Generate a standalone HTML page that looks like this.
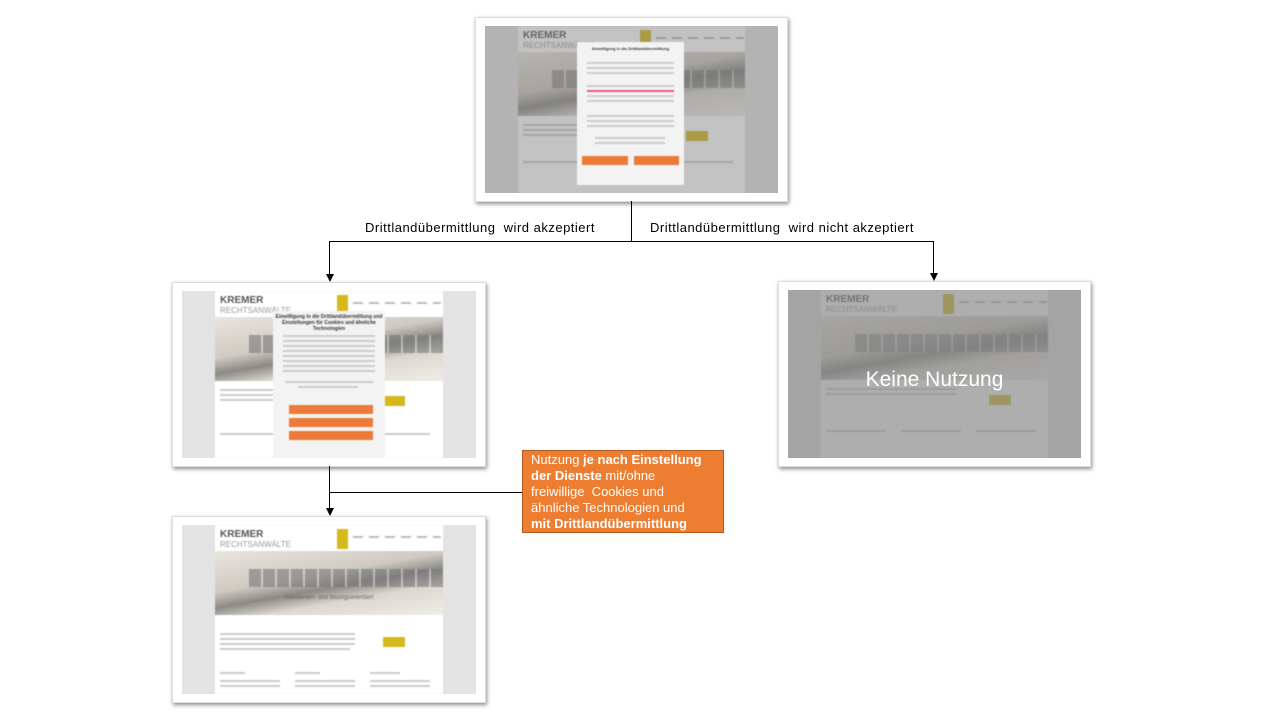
<!DOCTYPE html>
<html><head><meta charset="utf-8"><style>
body{margin:0;width:1280px;height:720px;background:#fff;position:relative;overflow:hidden;font-family:"Liberation Sans",sans-serif}
.shot{position:absolute;background:#fff;box-shadow:1px 2px 4px rgba(0,0,0,.45);border:1px solid #ddd}
.site{position:absolute;left:9px;top:8px;right:9px;bottom:8px;background:#e3e3e3;overflow:hidden}
.page{position:absolute;left:33px;right:33px;top:0;bottom:0;background:#fff;filter:blur(.5px)}
.logo{position:absolute;left:5px;top:5px;font-size:10px;font-weight:bold;color:#555;line-height:10px}
.logo span{display:block;font-weight:normal;font-size:8px;color:#999}
.nav{position:absolute;left:122px;top:4px;width:11px;height:20px;background:#d4b81c}
.navt{position:absolute;left:138px;top:11px;width:88px;height:2px;background:repeating-linear-gradient(90deg,#bbb 0 10px,transparent 10px 16px)}
.hero{position:absolute;left:0;right:0;top:26px;height:64px;background:linear-gradient(170deg,#e9e5de 0%,#cfcac2 40%,#8c8a86 55%,#dcd8d0 70%,#f0ede8 100%)}
.hero:after{content:"";position:absolute;left:15%;right:0;top:18px;height:18px;background:repeating-linear-gradient(90deg,#777 0 12px,#ccc 12px 14px);opacity:.6}
.txt{position:absolute;height:2px;background:#ccc}
.btn{position:absolute;left:168px;top:105px;width:22px;height:10px;background:#d4b81c}
.dim{position:absolute;inset:0;background:rgba(120,120,120,.45)}
.modal{position:absolute;background:#f3f3f3;filter:blur(.4px);text-align:center;color:#333}
.ob{position:absolute;background:#ec7a38;height:9px}
.lbl{position:absolute;font-size:13px;letter-spacing:.5px;color:#000;white-space:nowrap}
.ln{position:absolute;background:#000}
.arr{position:absolute;width:0;height:0;border-left:4px solid transparent;border-right:4px solid transparent;border-top:8px solid #000}
</style></head><body>

<div class="shot" style="left:475px;top:17px;width:311px;height:183px">
 <div class="site"><div class="page">
  <div class="logo">KREMER<span>RECHTSANWÄLTE</span></div><div class="nav"></div><div class="navt"></div>
  <div class="hero"></div>
  <div class="txt" style="left:5px;top:98px;width:130px"></div><div class="txt" style="left:5px;top:103px;width:130px"></div><div class="txt" style="left:5px;top:108px;width:120px"></div>
  <div class="btn"></div>
  <div class="txt" style="left:5px;top:135px;width:60px"></div><div class="txt" style="left:80px;top:135px;width:60px"></div><div class="txt" style="left:155px;top:135px;width:60px"></div>
 </div><div class="dim"></div>
 <div class="modal" style="left:92px;top:16px;width:107px;height:143px;font-size:4px;line-height:5px">
  <div style="font-weight:bold;margin:4px 0 5px">Einwilligung in die Drittlandübermittlung</div>
  <div class="txt" style="left:10px;top:20px;width:87px"></div><div class="txt" style="left:10px;top:25px;width:87px"></div><div class="txt" style="left:10px;top:30px;width:87px"></div>
  <div class="txt" style="left:10px;top:43px;width:87px"></div><div class="txt" style="left:10px;top:48px;width:87px;background:#e58"></div><div class="txt" style="left:10px;top:53px;width:87px"></div><div class="txt" style="left:10px;top:58px;width:87px"></div>
  <div class="txt" style="left:10px;top:73px;width:87px"></div><div class="txt" style="left:10px;top:78px;width:87px"></div><div class="txt" style="left:10px;top:83px;width:87px"></div>
  <div class="txt" style="left:18px;top:95px;width:70px"></div><div class="txt" style="left:18px;top:100px;width:70px"></div>
  <div class="ob" style="left:5px;top:114px;width:46px"></div><div class="ob" style="left:57px;top:114px;width:45px"></div>
 </div></div>
</div>

<div class="shot" style="left:172px;top:282px;width:312px;height:183px">
 <div class="site"><div class="page">
  <div class="logo">KREMER<span>RECHTSANWÄLTE</span></div><div class="nav"></div><div class="navt"></div>
  <div class="hero"></div>
  <div class="txt" style="left:5px;top:98px;width:130px"></div><div class="txt" style="left:5px;top:103px;width:130px"></div><div class="txt" style="left:5px;top:108px;width:120px"></div>
  <div class="btn"></div>
  <div class="txt" style="left:5px;top:142px;width:60px"></div><div class="txt" style="left:155px;top:142px;width:60px"></div>
 </div>
 <div class="modal" style="left:91px;top:20px;width:112px;height:148px;font-size:5px;line-height:6px">
  <div style="font-weight:bold;margin-top:3px">Einwilligung in die Drittlandübermittlung und Einstellungen für Cookies und ähnliche Technologien</div>
  <div class="txt" style="left:10px;top:24px;width:92px"></div><div class="txt" style="left:10px;top:29px;width:92px"></div><div class="txt" style="left:10px;top:34px;width:92px"></div><div class="txt" style="left:10px;top:39px;width:92px"></div><div class="txt" style="left:10px;top:44px;width:92px"></div><div class="txt" style="left:10px;top:49px;width:92px"></div><div class="txt" style="left:10px;top:54px;width:92px"></div><div class="txt" style="left:10px;top:59px;width:92px"></div>
  <div class="txt" style="left:12px;top:70px;width:88px"></div><div class="txt" style="left:25px;top:75px;width:60px"></div>
  <div class="ob" style="left:16px;top:94px;width:84px"></div><div class="ob" style="left:16px;top:107px;width:84px"></div><div class="ob" style="left:16px;top:120px;width:84px"></div>
 </div></div>
</div>

<div class="shot" style="left:778px;top:281px;width:311px;height:184px">
 <div class="site"><div class="page">
  <div class="logo">KREMER<span>RECHTSANWÄLTE</span></div><div class="nav"></div><div class="navt"></div>
  <div class="hero"></div>
  <div class="txt" style="left:5px;top:98px;width:130px"></div><div class="txt" style="left:5px;top:103px;width:130px"></div>
  <div class="btn"></div>
  <div class="txt" style="left:5px;top:140px;width:60px"></div><div class="txt" style="left:80px;top:140px;width:60px"></div><div class="txt" style="left:155px;top:140px;width:60px"></div>
 </div><div class="dim" style="background:rgba(130,130,130,.65)"></div>
 <div style="position:absolute;left:0;right:0;top:78px;text-align:center;color:#fff;font-size:21px">Keine Nutzung</div>
 </div>
</div>

<div class="shot" style="left:172px;top:516px;width:312px;height:185px">
 <div class="site"><div class="page">
  <div class="logo">KREMER<span>RECHTSANWÄLTE</span></div><div class="nav"></div><div class="navt"></div>
  <div class="hero"><div style="position:absolute;left:0;right:0;top:44px;text-align:center;font-size:6px;color:#666;z-index:2">mandanten- und lösungsorientiert</div></div>
  <div class="txt" style="left:5px;top:108px;width:135px"></div><div class="txt" style="left:5px;top:113px;width:135px"></div><div class="txt" style="left:5px;top:118px;width:135px"></div><div class="txt" style="left:5px;top:123px;width:130px"></div>
  <div class="btn" style="top:112px"></div>
  <div class="txt" style="left:5px;top:147px;width:25px"></div><div class="txt" style="left:80px;top:147px;width:25px"></div><div class="txt" style="left:155px;top:147px;width:30px"></div>
  <div class="txt" style="left:5px;top:155px;width:60px"></div><div class="txt" style="left:80px;top:155px;width:60px"></div><div class="txt" style="left:155px;top:155px;width:60px"></div>
  <div class="txt" style="left:5px;top:160px;width:60px"></div><div class="txt" style="left:80px;top:160px;width:60px"></div><div class="txt" style="left:155px;top:160px;width:60px"></div>
 </div></div>
</div>

<div class="ln" style="left:631px;top:201px;width:1px;height:40px"></div>
<div class="ln" style="left:329px;top:241px;width:605px;height:1px"></div>
<div class="ln" style="left:329px;top:241px;width:1px;height:34px"></div>
<div class="arr" style="left:326px;top:274px"></div>
<div class="ln" style="left:933px;top:241px;width:1px;height:33px"></div>
<div class="arr" style="left:930px;top:273px"></div>
<div class="lbl" style="left:365px;top:220px">Drittlandübermittlung&nbsp; wird akzeptiert</div>
<div class="lbl" style="left:650px;top:220px">Drittlandübermittlung&nbsp; wird nicht akzeptiert</div>
<div class="ln" style="left:329px;top:466px;width:1px;height:43px"></div>
<div class="arr" style="left:326px;top:508px"></div>
<div class="ln" style="left:329px;top:492px;width:193px;height:1px"></div>

<div style="position:absolute;left:522px;top:450px;width:202px;height:83px;background:#ed7d31;border:1px solid #b35a1e;box-sizing:border-box;color:#fff;font-size:13px;line-height:16px;padding:1px 8px;white-space:nowrap">Nutzung <b>je nach Einstellung</b><br><b>der Dienste</b> mit/ohne<br>freiwillige&nbsp; Cookies und<br>ähnliche Technologien und<br><b>mit Drittlandübermittlung</b></div>
</body></html>
